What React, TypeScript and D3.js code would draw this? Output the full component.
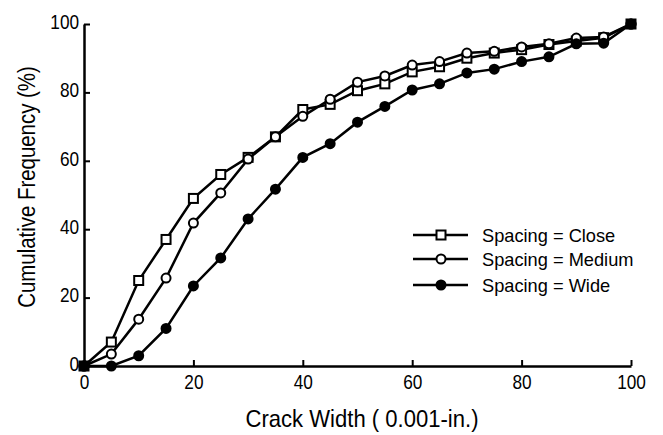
import React, { useEffect, useRef } from 'react';
import * as d3 from 'd3';

const widths = [0, 5, 10, 15, 20, 25, 30, 35, 40, 45, 50, 55, 60, 65, 70, 75, 80, 85, 90, 95, 100];
const closeVals = [0, 7, 25, 37, 49, 56, 61, 67, 75, 76.5, 80.5, 82.5, 86, 87.5, 90, 91.5, 92.5, 94, 95, 96, 100];
const mediumVals = [0, 3.5, 13.7, 25.7, 41.8, 50.6, 60.5, 67, 73, 78, 83, 84.8, 88, 89, 91.5, 92, 93.3, 94.2, 95.9, 96.2, 100];
const wideVals = [0, 0, 3, 11, 23.4, 31.6, 43, 51.7, 61, 65, 71.3, 75.9, 80.7, 82.5, 85.7, 86.8, 89, 90.4, 94.2, 94.4, 100];
const xTicks = [0, 20, 40, 60, 80, 100];
const yTicks = [0, 20, 40, 60, 80, 100];
const seriesNames = ['Spacing = Close', 'Spacing = Medium', 'Spacing = Wide'];

// condensed look: Liberation Sans squeezed horizontally
const font = '"Liberation Sans Narrow", "Liberation Sans", Arial, sans-serif';

const App = () => {
  const svgRef = useRef<SVGSVGElement>(null);

  useEffect(() => {
    const svg = d3.select(svgRef.current);
    svg.selectAll('*').remove();

    const x = d3.scaleLinear().domain([0, 100]).range([84, 631]);
    const y = d3.scaleLinear().domain([0, 100]).range([366, 24]);

    // axes, ticks pointing inward
    const xAxis = svg.append('g').attr('transform', 'translate(0,366)')
      .call(d3.axisBottom(x).tickValues(xTicks).tickSize(-6).tickPadding(8).tickSizeOuter(0));
    const yAxis = svg.append('g').attr('transform', 'translate(84,0)')
      .call(d3.axisLeft(y).tickValues(yTicks).tickSize(-6).tickPadding(6).tickSizeOuter(0));
    [xAxis, yAxis].forEach(ax => {
      ax.select('.domain').attr('stroke', '#000').attr('stroke-width', 2.5);
      ax.selectAll('.tick line').attr('stroke', '#000').attr('stroke-width', 2);
      ax.selectAll('.tick text').attr('fill', '#000').style('font-family', font).style('font-size', '21px')
        .attr('transform', 'scale(0.82,1)');
    });
    yAxis.selectAll('.tick text').attr('dy', '0.2em');

    svg.append('text')
      .attr('transform', 'translate(362,427) scale(0.92,1)')
      .attr('text-anchor', 'middle')
      .style('font-family', font).style('font-size', '24px')
      .text('Crack Width ( 0.001-in.)');
    svg.append('text')
      .attr('transform', 'translate(35,187) rotate(-90) scale(0.85,1)')
      .attr('text-anchor', 'middle')
      .style('font-family', font).style('font-size', '24px')
      .text('Cumulative Frequency (%)');

    const line = d3.line<number>().x((_, i) => x(widths[i])).y(d => y(d));
    const all = [closeVals, mediumVals, wideVals];
    const kinds = ['square', 'circle', 'filled'];

    const drawMarker = (g: any, kind: string, cx: number, cy: number) => {
      if (kind === 'square') {
        g.append('rect').attr('x', cx - 4.5).attr('y', cy - 4.5).attr('width', 9).attr('height', 9)
          .attr('fill', '#fff').attr('stroke', '#000').attr('stroke-width', 2);
      } else {
        g.append('circle').attr('cx', cx).attr('cy', cy).attr('r', 4.5)
          .attr('fill', kind === 'filled' ? '#000' : '#fff').attr('stroke', '#000').attr('stroke-width', 2);
      }
    };

    all.forEach((vals, k) => {
      const g = svg.append('g');
      g.append('path').datum(vals).attr('d', line)
        .attr('fill', 'none').attr('stroke', '#000').attr('stroke-width', 2.5);
      vals.forEach((v, i) => drawMarker(g, kinds[k], x(widths[i]), y(v)));
    });

    // legend
    const legendY = [235, 259, 285];
    seriesNames.forEach((name, k) => {
      const g = svg.append('g');
      g.append('line').attr('x1', 413).attr('x2', 468).attr('y1', legendY[k]).attr('y2', legendY[k])
        .attr('stroke', '#000').attr('stroke-width', 2.5);
      drawMarker(g, kinds[k], 441, legendY[k]);
      g.append('text').attr('transform', `translate(482,${legendY[k]}) scale(0.96,1)`).attr('dy', '0.35em')
        .style('font-family', font).style('font-size', '19px')
        .text(name);
    });
  }, []);

  return (
    <svg ref={svgRef} width={663} height={435}
      style={{ position: 'absolute', left: 0, top: 0, background: '#fff' }} />
  );
};

export default App;
